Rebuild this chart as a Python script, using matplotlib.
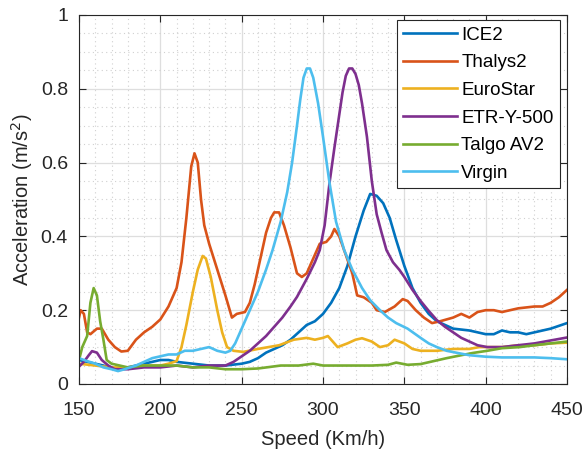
import matplotlib.pyplot as plt
import numpy as np
from matplotlib.ticker import MultipleLocator

plt.rcParams['font.family'] = ['Liberation Sans', 'DejaVu Sans']

# speed (km/h) / acceleration (m/s^2) readings for each train
ice2_v = [150, 155, 160, 165, 170, 175, 180, 190, 200, 205, 210, 220, 230, 240, 250, 255, 260, 265, 270,
          275, 280, 285, 290, 295, 300, 305, 310, 315, 320, 325, 329, 333, 337, 341, 345, 350, 355, 360,
          365, 370, 375, 380, 390, 395, 400, 405, 410, 415, 420, 425, 430, 440, 450]
ice2_a = [0.065, 0.06, 0.055, 0.05, 0.042, 0.04, 0.045, 0.055, 0.065, 0.065, 0.06, 0.055, 0.05, 0.05, 0.055,
          0.06, 0.07, 0.085, 0.095, 0.105, 0.12, 0.14, 0.16, 0.17, 0.19, 0.22, 0.26, 0.32, 0.40, 0.47, 0.515,
          0.51, 0.49, 0.45, 0.39, 0.32, 0.26, 0.22, 0.19, 0.17, 0.16, 0.15, 0.145, 0.14, 0.135, 0.135, 0.145,
          0.14, 0.14, 0.135, 0.14, 0.15, 0.165]

thalys_v = [150, 151, 153, 155, 157, 161, 164, 168, 172, 176, 180, 185, 190, 195, 200, 205, 210, 213, 216,
            219, 221, 223, 225, 227, 230, 235, 240, 244, 247, 252, 255, 258, 262, 265, 268, 270, 273, 276,
            280, 284, 287, 290, 295, 298, 302, 305, 307, 310, 314, 318, 321, 325, 330, 333, 338, 344, 349,
            352, 357, 362, 367, 372, 380, 385, 390, 395, 400, 405, 410, 415, 420, 430, 435, 440, 445, 450]
thalys_a = [0.18, 0.2, 0.19, 0.14, 0.135, 0.15, 0.15, 0.12, 0.10, 0.088, 0.09, 0.12, 0.14, 0.155, 0.175,
            0.21, 0.26, 0.33, 0.45, 0.59, 0.625, 0.6, 0.5, 0.43, 0.38, 0.31, 0.24, 0.18, 0.19, 0.195, 0.22,
            0.27, 0.35, 0.41, 0.45, 0.465, 0.465, 0.43, 0.37, 0.30, 0.29, 0.30, 0.35, 0.38, 0.385, 0.40,
            0.42, 0.40, 0.35, 0.30, 0.24, 0.235, 0.22, 0.20, 0.195, 0.21, 0.23, 0.225, 0.20, 0.18, 0.165,
            0.17, 0.18, 0.19, 0.18, 0.195, 0.20, 0.20, 0.195, 0.20, 0.205, 0.21, 0.21, 0.22, 0.235, 0.255]

euro_v = [150, 160, 170, 180, 190, 200, 205, 210, 213, 216, 220, 223, 226, 228, 231, 235, 238, 241, 245,
          251, 260, 273, 282, 290, 295, 300, 303, 306, 309, 315, 320, 324, 330, 335, 340, 344, 350, 355,
          360, 370, 380, 390, 396, 410, 420, 430, 440, 450]
euro_a = [0.055, 0.05, 0.045, 0.045, 0.05, 0.05, 0.055, 0.062, 0.1, 0.16, 0.25, 0.31, 0.347, 0.34, 0.29,
          0.2, 0.14, 0.1, 0.09, 0.087, 0.095, 0.105, 0.12, 0.125, 0.12, 0.125, 0.13, 0.115, 0.10, 0.11,
          0.12, 0.124, 0.115, 0.10, 0.105, 0.12, 0.11, 0.095, 0.09, 0.09, 0.095, 0.095, 0.10, 0.10, 0.105,
          0.105, 0.11, 0.112]

etr_v = [150, 153, 156, 158, 161, 164, 168, 172, 176, 180, 190, 200, 210, 220, 230, 240, 245, 250, 255,
         260, 265, 270, 275, 280, 284, 290, 295, 298, 301, 304, 307, 310, 312, 314, 316, 318, 320, 322, 324,
         327, 330, 333, 336, 339, 343, 347, 350, 355, 360, 365, 370, 375, 380, 385, 390, 395, 401, 410,
         420, 430, 440, 450]
etr_a = [0.047, 0.06, 0.078, 0.089, 0.085, 0.065, 0.05, 0.04, 0.04, 0.04, 0.045, 0.045, 0.05, 0.045, 0.05,
         0.05, 0.06, 0.075, 0.09, 0.11, 0.13, 0.155, 0.18, 0.21, 0.236, 0.285, 0.33, 0.363, 0.43, 0.545,
         0.64, 0.73, 0.79, 0.835, 0.855, 0.855, 0.84, 0.81, 0.76, 0.67, 0.55, 0.46, 0.41, 0.363, 0.33,
         0.309, 0.29, 0.255, 0.225, 0.198, 0.173, 0.155, 0.14, 0.125, 0.115, 0.105, 0.10, 0.10, 0.105,
         0.11, 0.118, 0.126]

talgo_v = [150, 152, 155, 157, 159, 161, 163, 165, 167, 170, 175, 180, 190, 200, 210, 220, 230, 240, 250,
           260, 274, 285, 294, 300, 308, 320, 330, 340, 345, 352, 360, 368, 376, 385, 392, 401, 410, 421,
           430, 440, 450]
talgo_a = [0.065, 0.1, 0.13, 0.22, 0.26, 0.24, 0.17, 0.12, 0.065, 0.055, 0.05, 0.045, 0.05, 0.05, 0.05,
           0.045, 0.045, 0.04, 0.04, 0.042, 0.05, 0.05, 0.055, 0.05, 0.05, 0.05, 0.05, 0.052, 0.058, 0.052,
           0.054, 0.062, 0.07, 0.078, 0.084, 0.09, 0.097, 0.1, 0.105, 0.11, 0.115]

virgin_v = [150, 155, 160, 165, 170, 174, 178, 185, 190, 195, 200, 205, 210, 215, 220, 225, 230, 235, 240,
            243, 246, 250, 255, 260, 265, 269, 274, 278, 281, 284, 286, 288, 290, 292, 294, 297, 300, 304,
            308, 313, 318, 324, 329, 335, 340, 345, 352, 360, 365, 370, 376, 384, 390, 400, 410, 420, 430,
            440, 450]
virgin_a = [0.07, 0.062, 0.055, 0.045, 0.04, 0.035, 0.04, 0.05, 0.06, 0.07, 0.075, 0.08, 0.08, 0.09, 0.09,
            0.095, 0.10, 0.09, 0.085, 0.09, 0.11, 0.15, 0.20, 0.25, 0.31, 0.363, 0.44, 0.52, 0.60, 0.70,
            0.77, 0.83, 0.855, 0.855, 0.83, 0.76, 0.67, 0.545, 0.44, 0.363, 0.31, 0.26, 0.227, 0.20, 0.18,
            0.165, 0.15, 0.125, 0.11, 0.10, 0.09, 0.083, 0.078, 0.074, 0.072, 0.072, 0.072, 0.07, 0.067]

names = ['ICE2', 'Thalys2', 'EuroStar', 'ETR-Y-500', 'Talgo AV2', 'Virgin']
colors = ['#0072BD', '#D95319', '#EDB120', '#7E2F8E', '#77AC30', '#4DBEEE']
series = [(ice2_v, ice2_a), (thalys_v, thalys_a), (euro_v, euro_a),
          (etr_v, etr_a), (talgo_v, talgo_a), (virgin_v, virgin_a)]

fig = plt.figure(figsize=(5.84, 4.54), dpi=100)
ax = fig.add_axes([0.1353, 0.1542, 0.8356, 0.8128])

for (v, a), name, c in zip(series, names, colors):
    ax.plot(v, a, color=c, lw=1.9, label=name, solid_joinstyle='round')

ax.set_xlim(150, 450)
ax.set_ylim(0, 1)
ax.xaxis.set_major_locator(MultipleLocator(50))
ax.xaxis.set_minor_locator(MultipleLocator(10))
ax.yaxis.set_minor_locator(MultipleLocator(0.05))
ax.set_yticks([0, 0.2, 0.4, 0.6, 0.8, 1])
ax.set_yticklabels(['0', '0.2', '0.4', '0.6', '0.8', '1'])

ax.grid(True, which='major', color='#dedede', lw=0.9, ls='-')
ax.grid(True, which='minor', color='#d0d0d0', lw=0.8, ls=(0, (1, 3)))
ax.set_axisbelow(True)

dark = '#262626'
ax.tick_params(which='major', direction='in', length=5, width=0.8, top=True, right=True,
               labelsize=14, colors=dark)
ax.tick_params(axis='x', which='major', pad=13)
ax.tick_params(axis='y', which='major', pad=8)
ax.tick_params(which='minor', length=0, top=True, right=True)
for s in ax.spines.values():
    s.set_color(dark)
    s.set_linewidth(0.8)

ax.set_xlabel('Speed (Km/h)', fontsize=14.5, color=dark, labelpad=8)
ax.set_ylabel('Acceleration (m/s$^2$)', fontsize=14.5, color=dark, labelpad=4)

leg = ax.legend(loc='upper right', bbox_to_anchor=(0.986, 0.9865), borderaxespad=0,
                fontsize=13.5, fancybox=False, framealpha=1, edgecolor=dark,
                handlelength=2.9, handletextpad=0.2, labelspacing=0.56, borderpad=0.35)
leg.get_frame().set_linewidth(0.8)
for t in leg.get_texts():
    t.set_color('black')

fig.savefig('out.png', dpi=100)
